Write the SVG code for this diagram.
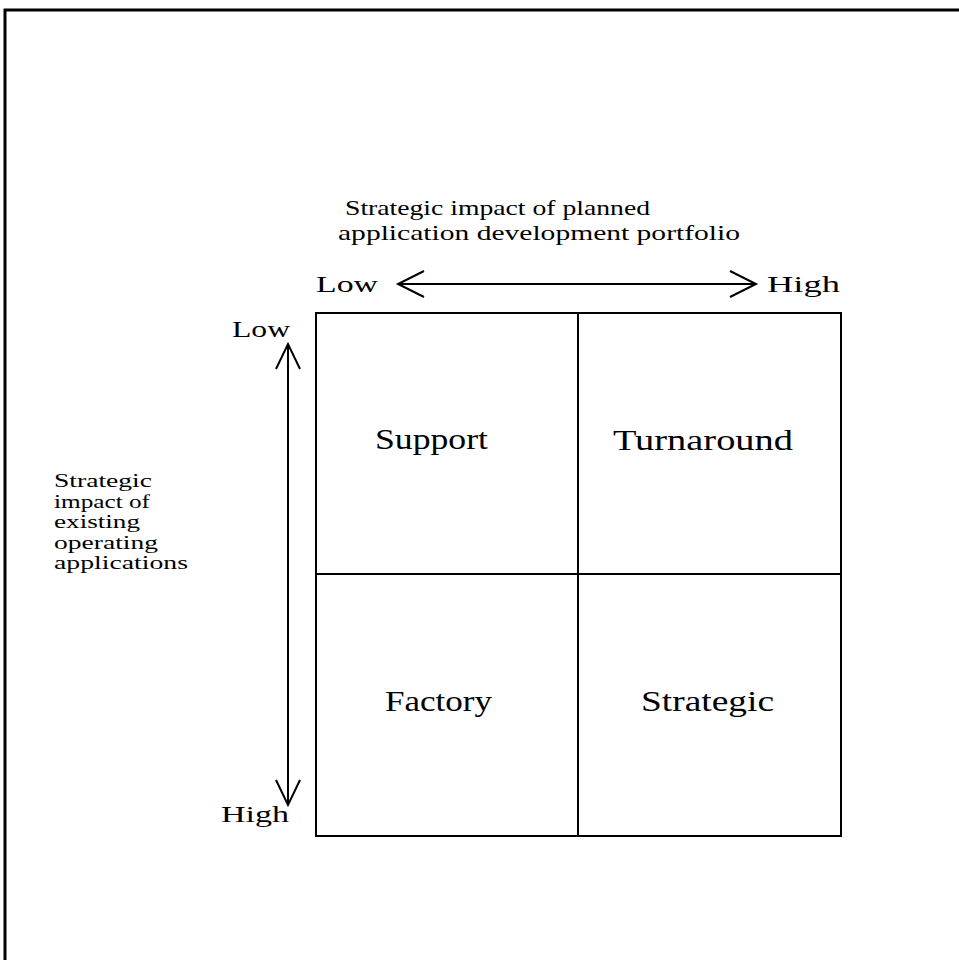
<svg xmlns="http://www.w3.org/2000/svg" width="959" height="960" viewBox="0 0 959 960">
<defs>
<style>
text{font-family:"Liberation Serif","DejaVu Serif",serif;fill:#000}
.t{font-size:22px}
.ax{font-size:24px}
.cell{font-size:30px}
.side{font-size:18px}
.ln{stroke:#000;fill:none;stroke-width:2}
</style>
</defs>
<rect width="959" height="960" fill="#fff"/>
<g id="frame">
<path d="M5 960 V10 H959" stroke="#000" stroke-width="3" fill="none"/>
</g>
<g id="grid">
<rect x="316" y="313" width="525" height="523" class="ln"/>
<line x1="578" y1="313" x2="578" y2="836" class="ln"/>
<line x1="316" y1="574" x2="841" y2="574" class="ln"/>
</g>
<g id="support"><text class="cell" x="375" y="449" textLength="113" lengthAdjust="spacingAndGlyphs">Support</text></g>
<g id="turnaround"><text class="cell" x="613" y="450" textLength="180" lengthAdjust="spacingAndGlyphs">Turnaround</text></g>
<g id="factory"><text class="cell" x="385" y="711" textLength="107" lengthAdjust="spacingAndGlyphs">Factory</text></g>
<g id="strategic"><text class="cell" x="641" y="711" textLength="133" lengthAdjust="spacingAndGlyphs">Strategic</text></g>
<g id="title">
<text class="t" x="345" y="215" textLength="305" lengthAdjust="spacingAndGlyphs">Strategic impact of planned</text>
<text class="t" x="338" y="240" textLength="402" lengthAdjust="spacingAndGlyphs">application development portfolio</text>
</g>
<g id="side-label" class="side">
<text x="54" y="487" textLength="98" lengthAdjust="spacingAndGlyphs">Strategic</text>
<text x="54" y="507.5" textLength="96" lengthAdjust="spacingAndGlyphs">impact of</text>
<text x="54" y="528" textLength="86" lengthAdjust="spacingAndGlyphs">existing</text>
<text x="54" y="548.5" textLength="104" lengthAdjust="spacingAndGlyphs">operating</text>
<text x="54" y="569" textLength="134" lengthAdjust="spacingAndGlyphs">applications</text>
</g>
<g id="axis-labels" class="ax">
<text x="316" y="292" textLength="62" lengthAdjust="spacingAndGlyphs">Low</text>
<text x="767" y="292" textLength="73" lengthAdjust="spacingAndGlyphs">High</text>
<text x="232" y="337" textLength="58" lengthAdjust="spacingAndGlyphs">Low</text>
<text x="221" y="822" textLength="68" lengthAdjust="spacingAndGlyphs">High</text>
</g>
<g id="connectors">
<line x1="398" y1="284" x2="756" y2="284" class="ln"/>
<polyline points="424,271 398,284 424,297" class="ln"/>
<polyline points="730,271 756,284 730,297" class="ln"/>
<line x1="288" y1="344" x2="288" y2="805" class="ln"/>
<polyline points="276,369 288,344 300,369" class="ln"/>
<polyline points="276,780 288,805 300,780" class="ln"/>
</g>
</svg>
